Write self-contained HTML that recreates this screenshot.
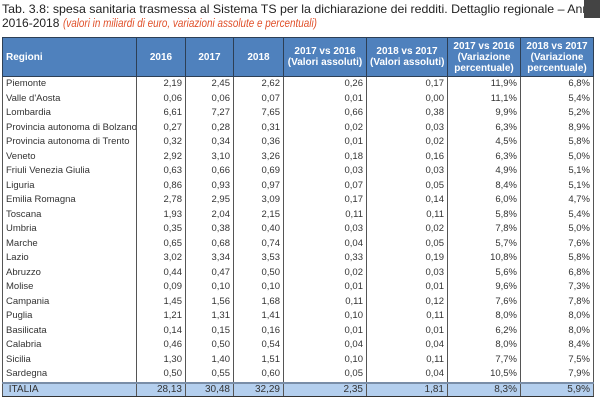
<!DOCTYPE html>
<html><head><meta charset="utf-8"><style>
body{margin:0;width:600px;height:403px;background:#fff;font-family:"Liberation Sans",sans-serif;overflow:hidden;position:relative}
.t{position:absolute;left:2px;font-size:12px;color:#222;white-space:nowrap;transform-origin:0 0}
.t i{color:#e0502a;display:inline-block;transform:scaleX(0.86);transform-origin:0 0;font-size:11.5px}
table{position:absolute;left:2px;top:37px;width:591px;border-collapse:collapse;table-layout:fixed;font-size:9.5px;color:#333}
td,th{padding:0 3px;white-space:nowrap;overflow:hidden}
th{background:#4f81bd;color:#fff;height:38px;font-weight:bold;border:1px solid #2d3f55;text-align:center;font-size:10px;line-height:11px}
th.l{text-align:left}
td{height:14.5px;line-height:14px;text-align:right;border-left:1px solid #555;border-right:1px solid #555}
td.l{text-align:left}
tr.it td{background:#b4cfee;border-top:2px solid #7a8ea8;border-bottom:1px solid #333;height:12px;line-height:12px;font-size:10px}
.box{position:absolute;left:584px;top:0;width:16px;height:18px;background:#444}
</style></head><body>
<div class="t" style="top:2px;transform:scaleX(1.03)">Tab. 3.8: spesa sanitaria trasmessa al Sistema TS per la dichiarazione dei redditi. Dettaglio regionale – Ann</div>
<div class="box"></div>
<div class="t" style="top:16px">2016-2018 <i>(valori in miliardi di euro, variazioni assolute e percentuali)</i></div>
<table>
<colgroup><col style="width:134px"><col style="width:49px"><col style="width:48px"><col style="width:50px"><col style="width:83px"><col style="width:81px"><col style="width:73px"><col style="width:73px"></colgroup>
<tr><th class="l">Regioni</th><th>2016</th><th>2017</th><th>2018</th><th>2017 vs 2016<br>(Valori assoluti)</th><th>2018 vs 2017<br>(Valori assoluti)</th><th>2017 vs 2016<br>(Variazione<br>percentuale)</th><th>2018 vs 2017<br>(Variazione<br>percentuale)</th></tr>
<tr><td class="l">Piemonte</td><td>2,19</td><td>2,45</td><td>2,62</td><td>0,26</td><td>0,17</td><td>11,9%</td><td>6,8%</td></tr>
<tr><td class="l">Valle d'Aosta</td><td>0,06</td><td>0,06</td><td>0,07</td><td>0,01</td><td>0,00</td><td>11,1%</td><td>5,4%</td></tr>
<tr><td class="l">Lombardia</td><td>6,61</td><td>7,27</td><td>7,65</td><td>0,66</td><td>0,38</td><td>9,9%</td><td>5,2%</td></tr>
<tr><td class="l">Provincia autonoma di Bolzano</td><td>0,27</td><td>0,28</td><td>0,31</td><td>0,02</td><td>0,03</td><td>6,3%</td><td>8,9%</td></tr>
<tr><td class="l">Provincia autonoma di Trento</td><td>0,32</td><td>0,34</td><td>0,36</td><td>0,01</td><td>0,02</td><td>4,5%</td><td>5,8%</td></tr>
<tr><td class="l">Veneto</td><td>2,92</td><td>3,10</td><td>3,26</td><td>0,18</td><td>0,16</td><td>6,3%</td><td>5,0%</td></tr>
<tr><td class="l">Friuli Venezia Giulia</td><td>0,63</td><td>0,66</td><td>0,69</td><td>0,03</td><td>0,03</td><td>4,9%</td><td>5,1%</td></tr>
<tr><td class="l">Liguria</td><td>0,86</td><td>0,93</td><td>0,97</td><td>0,07</td><td>0,05</td><td>8,4%</td><td>5,1%</td></tr>
<tr><td class="l">Emilia Romagna</td><td>2,78</td><td>2,95</td><td>3,09</td><td>0,17</td><td>0,14</td><td>6,0%</td><td>4,7%</td></tr>
<tr><td class="l">Toscana</td><td>1,93</td><td>2,04</td><td>2,15</td><td>0,11</td><td>0,11</td><td>5,8%</td><td>5,4%</td></tr>
<tr><td class="l">Umbria</td><td>0,35</td><td>0,38</td><td>0,40</td><td>0,03</td><td>0,02</td><td>7,8%</td><td>5,0%</td></tr>
<tr><td class="l">Marche</td><td>0,65</td><td>0,68</td><td>0,74</td><td>0,04</td><td>0,05</td><td>5,7%</td><td>7,6%</td></tr>
<tr><td class="l">Lazio</td><td>3,02</td><td>3,34</td><td>3,53</td><td>0,33</td><td>0,19</td><td>10,8%</td><td>5,8%</td></tr>
<tr><td class="l">Abruzzo</td><td>0,44</td><td>0,47</td><td>0,50</td><td>0,02</td><td>0,03</td><td>5,6%</td><td>6,8%</td></tr>
<tr><td class="l">Molise</td><td>0,09</td><td>0,10</td><td>0,10</td><td>0,01</td><td>0,01</td><td>9,6%</td><td>7,3%</td></tr>
<tr><td class="l">Campania</td><td>1,45</td><td>1,56</td><td>1,68</td><td>0,11</td><td>0,12</td><td>7,6%</td><td>7,8%</td></tr>
<tr><td class="l">Puglia</td><td>1,21</td><td>1,31</td><td>1,41</td><td>0,10</td><td>0,11</td><td>8,0%</td><td>8,0%</td></tr>
<tr><td class="l">Basilicata</td><td>0,14</td><td>0,15</td><td>0,16</td><td>0,01</td><td>0,01</td><td>6,2%</td><td>8,0%</td></tr>
<tr><td class="l">Calabria</td><td>0,46</td><td>0,50</td><td>0,54</td><td>0,04</td><td>0,04</td><td>8,0%</td><td>8,4%</td></tr>
<tr><td class="l">Sicilia</td><td>1,30</td><td>1,40</td><td>1,51</td><td>0,10</td><td>0,11</td><td>7,7%</td><td>7,5%</td></tr>
<tr><td class="l">Sardegna</td><td>0,50</td><td>0,55</td><td>0,60</td><td>0,05</td><td>0,04</td><td>10,5%</td><td>7,9%</td></tr>
<tr class="it"><td class="l">&nbsp;ITALIA</td><td>28,13</td><td>30,48</td><td>32,29</td><td>2,35</td><td>1,81</td><td>8,3%</td><td>5,9%</td></tr>
</table>
</body></html>
